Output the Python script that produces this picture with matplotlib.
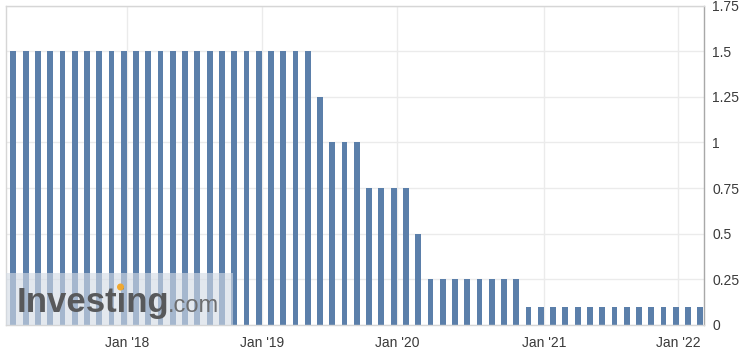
import matplotlib
matplotlib.use("Agg")
import matplotlib.pyplot as plt
from matplotlib.patches import Rectangle, Ellipse

# rate at each meeting, oldest first
rates = [1.5, 1.5, 1.5, 1.5, 1.5, 1.5, 1.5, 1.5, 1.5, 1.5,
         1.5, 1.5, 1.5, 1.5, 1.5, 1.5, 1.5, 1.5, 1.5, 1.5,
         1.5, 1.5, 1.5, 1.5, 1.5, 1.25, 1.0, 1.0, 1.0, 0.75,
         0.75, 0.75, 0.75, 0.5, 0.25, 0.25, 0.25, 0.25, 0.25, 0.25,
         0.25, 0.25, 0.1, 0.1, 0.1, 0.1, 0.1, 0.1, 0.1, 0.1,
         0.1, 0.1, 0.1, 0.1, 0.1, 0.1, 0.1]

# where each January falls between meetings
yearTickPos = [9.3, 20.3, 31.3, 43.25, 54.2]
yearTickLabels = ["Jan '18", "Jan '19", "Jan '20", "Jan '21", "Jan '22"]

yTicks = [0, 0.25, 0.5, 0.75, 1, 1.25, 1.5, 1.75]
yTickLabels = ["0", "0.25", "0.5", "0.75", "1", "1.25", "1.5", "1.75"]

barColor = "#5b7faa"
gridColor = "#ebebeb"
textColor = "#3a3a3a"

plt.rcParams['font.family'] = ['Liberation Sans', 'DejaVu Sans']

fig = plt.figure(figsize=(7.48, 3.62), dpi=100)
ax = fig.add_axes([6/748, 37/362, 698/748, 319.5/362])

x = list(range(len(rates)))
ax.bar(x, rates, width=0.47, color=barColor, zorder=2)

ax.set_xlim(-0.6, 56.3)
ax.set_ylim(0, 1.75)

ax.set_xticks(yearTickPos)
ax.set_xticklabels(yearTickLabels)
ax.set_yticks(yTicks)
ax.set_yticklabels(yTickLabels)

ax.yaxis.tick_right()
ax.tick_params(axis='both', length=0, labelsize=10, colors=textColor)
ax.tick_params(axis='x', pad=8)
ax.tick_params(axis='y', pad=6)

ax.grid(True, color=gridColor, linewidth=1, zorder=0)
ax.set_axisbelow(True)

for side in ['left', 'top', 'bottom']:
    ax.spines[side].set_color("#d6d6d6")
    ax.spines[side].set_linewidth(1)
ax.spines['right'].set_color("#a8a8a8")
ax.spines['right'].set_linewidth(1)

# watermark box and logo
ax.add_patch(Rectangle((0, 0), 227/698, 52.3/319.5, transform=ax.transAxes,
                       facecolor="#d3dbe5", alpha=0.62, edgecolor='none', zorder=3))
fig.text(17/748, 50/362, "Investing", fontsize=25, fontweight='bold',
         color="#58595b", zorder=4)
fig.text(168/748, 50/362, ".com", fontsize=17, color="#6d6e70", zorder=4)
# orange dot over the i
fig.patches.append(Ellipse((120.5/748, 75/362), 7/748, 7/362, transform=fig.transFigure,
                           facecolor="#f0a830", edgecolor='none', zorder=5))

fig.savefig("out.png", dpi=100)
